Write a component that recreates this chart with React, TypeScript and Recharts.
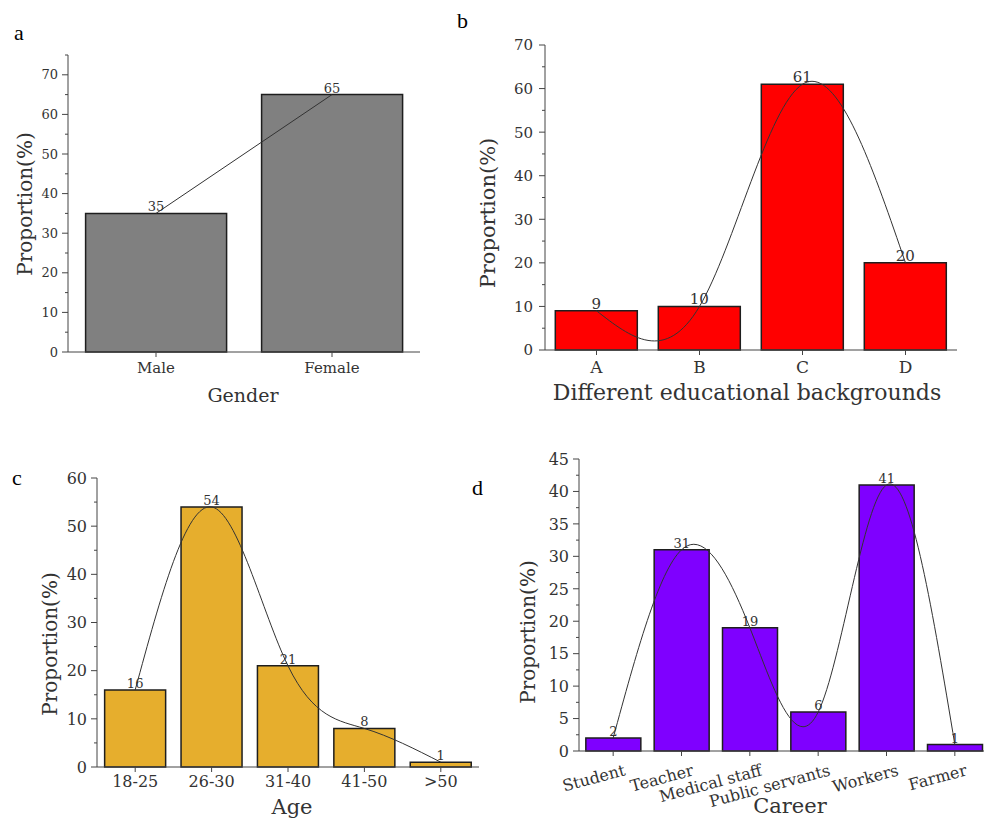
import { Bar, ComposedChart, LabelList, Line, XAxis, YAxis } from "recharts";

const FONT = '"DejaVu Serif", serif';
const INK = "#333";
const AXIS = "#444";

// a: gender
const genderCats = ["Male", "Female"];
const genderVals = [35, 65];
const genderTicks = [0, 5, 10, 15, 20, 25, 30, 35, 40, 45, 50, 55, 60, 65, 70, 75];

// b: education
const eduCats = ["A", "B", "C", "D"];
const eduVals = [9, 10, 61, 20];
const eduTicks = [0, 5, 10, 15, 20, 25, 30, 35, 40, 45, 50, 55, 60, 65, 70];

// c: age
const ageCats = ["18-25", "26-30", "31-40", "41-50", ">50"];
const ageVals = [16, 54, 21, 8, 1];
const ageTicks = [0, 5, 10, 15, 20, 25, 30, 35, 40, 45, 50, 55, 60];

// d: career
const careerCats = ["Student", "Teacher", "Medical staff", "Public servants", "Workers", "Farmer"];
const careerVals = [2, 31, 19, 6, 41, 1];
const careerTicks = [0, 2.5, 5, 7.5, 10, 12.5, 15, 17.5, 20, 22.5, 25, 27.5, 30, 32.5, 35, 37.5, 40, 42.5, 45];

type PanelProps = {
  left: number;
  top: number;
  width: number;
  height: number;
  margin: { top: number; right: number; left: number; bottom: number };
  yWidth: number;
  xHeight: number;
  cats: string[];
  vals: number[];
  color: string;
  curve: "linear" | "natural";
  domain: [number, number];
  ticks: number[];
  major: number;
  yFs: number;
  yGap: number;
  xFs: number;
  xGap: number;
  valFs: number;
  rotate?: boolean;
};

function Panel(p: PanelProps) {
  const data = p.cats.map((name, i) => ({ name, v: p.vals[i] }));

  const yTick = (t: any) => {
    const isMajor = t.payload.value % p.major === 0;
    return (
      <g>
        <line x1={t.x} x2={t.x - (isMajor ? 6 : 3)} y1={t.y} y2={t.y} stroke={AXIS} />
        {isMajor && (
          <text x={t.x - p.yGap} y={t.y} dy="0.36em" textAnchor="end" fontSize={p.yFs} fill={INK} fontFamily={FONT}>
            {t.payload.value}
          </text>
        )}
      </g>
    );
  };

  const xTick = (t: any) => (
    <g>
      <line x1={t.x} x2={t.x} y1={t.y} y2={t.y + 5} stroke={AXIS} />
      {p.rotate ? (
        <text
          x={t.x + 13}
          y={t.y + 24}
          textAnchor="end"
          transform={`rotate(-15 ${t.x + 13} ${t.y + 24})`}
          fontSize={p.xFs}
          fill={INK}
          fontFamily={FONT}
        >
          {t.payload.value}
        </text>
      ) : (
        <text x={t.x} y={t.y + p.xGap} dy="0.71em" textAnchor="middle" fontSize={p.xFs} fill={INK} fontFamily={FONT}>
          {t.payload.value}
        </text>
      )}
    </g>
  );

  return (
    <div style={{ position: "absolute", left: p.left, top: p.top }}>
      <ComposedChart width={p.width} height={p.height} data={data} margin={p.margin} barCategoryGap="10%">
        <XAxis
          dataKey="name"
          height={p.xHeight}
          axisLine={{ stroke: AXIS }}
          tickLine={false}
          tickSize={0}
          tickMargin={0}
          interval={0}
          tick={xTick}
        />
        <YAxis
          type="number"
          width={p.yWidth}
          domain={p.domain}
          ticks={p.ticks}
          interval={0}
          axisLine={{ stroke: AXIS }}
          tickLine={false}
          tickSize={0}
          tickMargin={0}
          tick={yTick}
        />
        <Bar dataKey="v" fill={p.color} stroke="#1e1e1e" strokeWidth={1.5} isAnimationActive={false}>
          <LabelList dataKey="v" position="top" offset={2} fontSize={p.valFs} fill={INK} fontFamily={FONT} />
        </Bar>
        <Line type={p.curve} dataKey="v" stroke="#333" strokeWidth={1} dot={false} isAnimationActive={false} />
      </ComposedChart>
    </div>
  );
}

const title = { fontFamily: FONT, fill: INK, textAnchor: "middle" as const };
const yTitle = (x: number, y: number, fs: number) => ({
  x,
  y,
  fontSize: fs,
  dominantBaseline: "central" as const,
  transform: `rotate(-90 ${x} ${y})`,
  ...title,
});
const letter = { fontFamily: '"Liberation Serif", serif', fontSize: 22, fill: "#000" };

export default function App() {
  return (
    <div
      style={{
        position: "absolute",
        left: 0,
        top: 0,
        width: 984,
        height: 820,
        overflow: "hidden",
        background: "#fff",
        fontFamily: FONT,
      }}
    >
      <Panel
        left={0}
        top={0}
        width={440}
        height={420}
        margin={{ top: 55, right: 20, left: 0, bottom: 0 }}
        yWidth={68}
        xHeight={68}
        cats={genderCats}
        vals={genderVals}
        color="#808080"
        curve="linear"
        domain={[0, 75]}
        ticks={genderTicks}
        major={10}
        yFs={13}
        yGap={10}
        xFs={15}
        xGap={10}
        valFs={13}
      />
      <Panel
        left={450}
        top={0}
        width={534}
        height={420}
        margin={{ top: 45, right: 27, left: 0, bottom: 0 }}
        yWidth={95}
        xHeight={70}
        cats={eduCats}
        vals={eduVals}
        color="#ff0000"
        curve="natural"
        domain={[0, 70]}
        ticks={eduTicks}
        major={10}
        yFs={15}
        yGap={12}
        xFs={17}
        xGap={11}
        valFs={15}
      />
      <Panel
        left={0}
        top={460}
        width={490}
        height={360}
        margin={{ top: 18, right: 11, left: 0, bottom: 0 }}
        yWidth={97}
        xHeight={53}
        cats={ageCats}
        vals={ageVals}
        color="#e6ae2d"
        curve="natural"
        domain={[0, 60]}
        ticks={ageTicks}
        major={10}
        yFs={16}
        yGap={10}
        xFs={16}
        xGap={9}
        valFs={13}
      />
      <Panel
        left={460}
        top={440}
        width={530}
        height={380}
        margin={{ top: 19, right: 1, left: 0, bottom: 0 }}
        yWidth={119}
        xHeight={69}
        cats={careerCats}
        vals={careerVals}
        color="#7f00ff"
        curve="natural"
        domain={[0, 45]}
        ticks={careerTicks}
        major={5}
        yFs={16}
        yGap={10}
        xFs={16}
        xGap={9}
        valFs={13}
        rotate
      />
      <svg width={984} height={820} style={{ position: "absolute", left: 0, top: 0, pointerEvents: "none" }}>
        <text x={14} y={40} {...letter}>a</text>
        <text x={457} y={28} {...letter}>b</text>
        <text x={12} y={485} {...letter}>c</text>
        <text x={472} y={495} {...letter}>d</text>

        <text {...yTitle(25, 204, 20)}>Proportion(%)</text>
        <text x={243} y={402} fontSize={19} {...title}>Gender</text>

        <text {...yTitle(488, 213, 21)}>Proportion(%)</text>
        <text x={747} y={400} fontSize={22} {...title}>Different educational backgrounds</text>

        <text {...yTitle(50, 644, 20)}>Proportion(%)</text>
        <text x={292} y={814} fontSize={21} {...title}>Age</text>

        <text {...yTitle(528, 632, 20)}>Proportion(%)</text>
        <text x={790} y={813} fontSize={21} {...title}>Career</text>
      </svg>
    </div>
  );
}
